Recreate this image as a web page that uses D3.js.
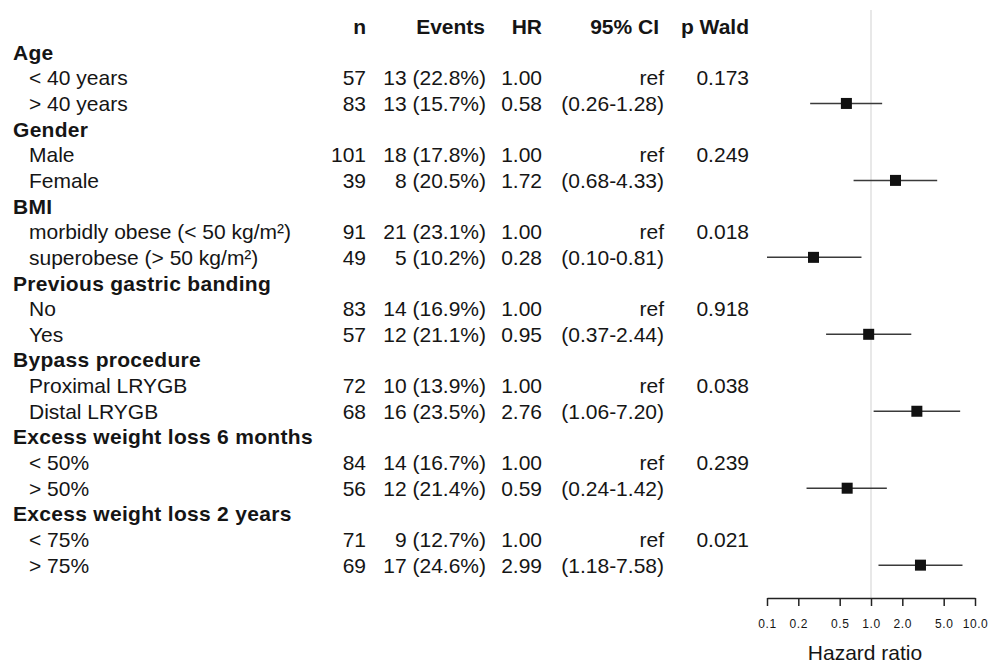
<!DOCTYPE html>
<html>
<head>
<meta charset="utf-8">
<script src="https://cdn.jsdelivr.net/npm/d3@7"></script>
<style>
  html, body { margin: 0; padding: 0; background: #fff; }
  svg { display: block; }
  text { font-family: "Liberation Sans", Arial, Helvetica, sans-serif; fill: #151515; }
</style>
</head>
<body>
<svg id="chart" width="1002" height="665"></svg>
<script>
// ---- data ----
const headers = ["n", "Events", "HR", "95% CI", "p Wald"];
const groups = ["Age", "Gender", "BMI", "Previous gastric banding", "Bypass procedure",
  "Excess weight loss 6 months", "Excess weight loss 2 years"];
const levels = [
  ["< 40 years", "> 40 years"],
  ["Male", "Female"],
  ["morbidly obese (< 50 kg/m²)", "superobese (> 50 kg/m²)"],
  ["No", "Yes"],
  ["Proximal LRYGB", "Distal LRYGB"],
  ["< 50%", "> 50%"],
  ["< 75%", "> 75%"]
];
const nValues = [[57, 83], [101, 39], [91, 49], [83, 57], [72, 68], [84, 56], [71, 69]];
const eventValues = [[13, 13], [18, 8], [21, 5], [14, 12], [10, 16], [14, 12], [9, 17]];
const eventPct = [["22.8", "15.7"], ["17.8", "20.5"], ["23.1", "10.2"], ["16.9", "21.1"],
  ["13.9", "23.5"], ["16.7", "21.4"], ["12.7", "24.6"]];
const hrValues = [0.58, 1.72, 0.28, 0.95, 2.76, 0.59, 2.99];
const ciLower = [0.26, 0.68, 0.10, 0.37, 1.06, 0.24, 1.18];
const ciUpper = [1.28, 4.33, 0.81, 2.44, 7.20, 1.42, 7.58];
const pWald = ["0.173", "0.249", "0.018", "0.918", "0.038", "0.239", "0.021"];
const tickValues = [0.1, 0.2, 0.5, 1, 2, 5, 10];
const axisTitle = "Hazard ratio";

// ---- build rows ----
const rows = [];
groups.forEach((g, gi) => {
  rows.push({ type: "group", label: g });
  levels[gi].forEach((lv, li) => {
    const ref = li === 0;
    rows.push({
      type: "level", label: lv,
      n: nValues[gi][li],
      events: eventValues[gi][li] + " (" + eventPct[gi][li] + "%)",
      hr: ref ? 1 : hrValues[gi],
      hrText: ref ? "1.00" : hrValues[gi].toFixed(2),
      ci: ref ? "ref" : "(" + ciLower[gi].toFixed(2) + "-" + ciUpper[gi].toFixed(2) + ")",
      p: ref ? pWald[gi] : "",
      lo: ref ? null : ciLower[gi],
      hi: ref ? null : ciUpper[gi],
      point: !ref
    });
  });
});

const svg = d3.select("#chart");
const fs = 21;

const y = d3.scaleLinear().domain([0, rows.length]).range([26.5, 26.5 + 25.65 * (rows.length)]);
const x = d3.scaleLog().domain([0.1, 10]).range([767, 975]);

// header
const headerX = [366, 485, 542, 659, 749];
svg.append("g").selectAll("text").data(headers).join("text")
  .attr("x", (d, i) => headerX[i])
  .attr("y", y(0) + 7.5)
  .attr("text-anchor", "end")
  .attr("font-size", fs)
  .attr("font-weight", "bold")
  .text(d => d);

// rows text
const rg = svg.append("g");
rows.forEach((r, i) => {
  const yy = y(i + 1) + 7.5;
  if (r.type === "group") {
    rg.append("text").attr("x", 13).attr("y", yy).attr("font-size", fs)
      .attr("font-weight", "bold").style("letter-spacing", "0.3px").text(r.label);
  } else {
    rg.append("text").attr("x", 29).attr("y", yy).attr("font-size", fs).text(r.label);
    const cols = [[366, r.n], [486, r.events], [542, r.hrText], [664, r.ci], [749, r.p]];
    cols.forEach(([cx, t]) => {
      rg.append("text").attr("x", cx).attr("y", yy).attr("font-size", fs)
        .attr("text-anchor", "end").text(t);
    });
  }
});

// reference line
const plotBottom = 598;
svg.append("line")
  .attr("x1", x(1)).attr("x2", x(1))
  .attr("y1", 10).attr("y2", plotBottom)
  .attr("stroke", "#d9d9d9").attr("stroke-width", 1.2);

// CI lines and points
const pts = rows.map((r, i) => Object.assign({ idx: i + 1 }, r)).filter(r => r.point);
svg.append("g").selectAll("line").data(pts).join("line")
  .attr("x1", d => x(d.lo)).attr("x2", d => x(d.hi))
  .attr("y1", d => y(d.idx)).attr("y2", d => y(d.idx))
  .attr("stroke", "#3a3a3a").attr("stroke-width", 1.5);
const sq = 11;
svg.append("g").selectAll("rect").data(pts).join("rect")
  .attr("x", d => x(d.hr) - sq / 2).attr("y", d => y(d.idx) - sq / 2)
  .attr("width", sq).attr("height", sq)
  .attr("fill", "#111");

// axis
const axis = d3.axisBottom(x).tickValues(tickValues).tickFormat(d3.format(".1f"))
  .tickSize(8).tickSizeOuter(0);
const ax = svg.append("g").attr("transform", `translate(0,${plotBottom})`).call(axis);
ax.select(".domain").attr("stroke", "#222").attr("stroke-width", 1.5);
ax.selectAll(".tick line").attr("stroke", "#222").attr("stroke-width", 1.5);
ax.selectAll(".tick text").attr("font-size", 12).attr("y", 30).attr("dy", null)
  .attr("fill", "#222").style("letter-spacing", "0.6px")
  .attr("font-family", "'Liberation Sans', Arial, sans-serif");

svg.append("text").attr("x", 865).attr("y", 660).attr("text-anchor", "middle")
  .attr("font-size", fs).text(axisTitle);
</script>
</body>
</html>
